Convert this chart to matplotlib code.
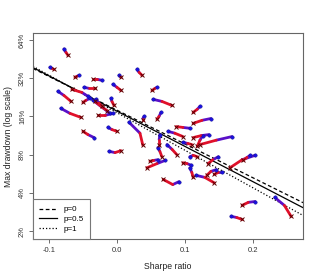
import numpy as np
import matplotlib
matplotlib.use("Agg")
import matplotlib.pyplot as plt
from matplotlib.collections import LineCollection
from matplotlib.ticker import FixedLocator, FixedFormatter, NullLocator

plt.rcParams['font.family'] = ['Liberation Sans', 'DejaVu Sans']

# curve points: blue end, middle, red end  (Sharpe ratio, max drawdown %)
blue_sharpe = [-0.078, -0.0985, -0.0559, -0.022, 0.0294, 0.003, -0.0868, -0.0485, -0.0059, -0.0824,
               -0.0426, -0.0397, -0.0103, -0.0059, -0.0088, -0.0309, -0.0353, -0.0338, -0.0132, -0.0118,
               0.053, 0.0588, 0.0647, 0.122, 0.138, 0.0176, 0.040, 0.107, 0.075, 0.135,
               0.169, 0.126, 0.063, 0.060, 0.0735, 0.0706, 0.060, 0.091, 0.109, 0.107,
               0.116, 0.097, 0.107, 0.149, 0.146, 0.154, 0.203, 0.196, 0.232, 0.203, 0.168]
blue_dd = [54.3, 38.9, 33.7, 30.8, 37.5, 33.7, 25.2, 27.1, 28.6, 18.5,
           23.0, 22.2, 16.9, 16.9, 22.2, 21.8, 21.4, 10.9, 13.1, 8.5,
           21.8, 27.1, 17.2, 19.2, 15.4, 14.4, 16.0, 12.9, 12.2, 11.5,
           11.1, 11.3, 11.5, 9.1, 9.6, 7.2, 7.3, 4.9, 6.6, 6.3,
           5.5, 10.0, 7.7, 7.7, 6.1, 5.8, 7.9, 7.9, 3.68, 3.42, 2.61]
mid_sharpe = [-0.075, -0.0956, -0.0588, -0.0294, 0.0324, 0.0044, -0.078, -0.0412, 0.0, -0.0691,
              -0.0515, -0.0456, -0.025, -0.0176, -0.0074, -0.0265, -0.0235, -0.0426, -0.0074, -0.0029,
              0.066, 0.0559, 0.0618, 0.118, 0.125, 0.0338, 0.038, 0.097, 0.085, 0.124,
              0.146, 0.122, 0.062, 0.063, 0.081, 0.0588, 0.054, 0.082, 0.103, 0.110,
              0.129, 0.104, 0.112, 0.141, 0.138, 0.149, 0.184, 0.191, 0.246, 0.193, 0.176]
mid_dd = [51.1, 38.2, 33.1, 31.3, 35.6, 33.1, 23.4, 26.6, 27.1, 16.9,
          24.7, 21.4, 19.5, 16.3, 21.0, 20.3, 19.2, 11.5, 12.6, 8.3,
          21.0, 26.6, 16.0, 18.2, 14.9, 11.8, 15.4, 13.1, 11.8, 11.3,
          10.4, 10.4, 10.5, 8.5, 8.8, 6.8, 7.2, 4.65, 6.8, 5.8,
          5.3, 9.8, 7.9, 7.3, 5.9, 5.8, 7.3, 7.6, 3.19, 3.37, 2.56]
red_sharpe = [-0.072, -0.0926, -0.0618, -0.0353, 0.0368, 0.006, -0.0676, -0.0324, 0.0059, -0.0529,
              -0.0662, -0.050, -0.0324, -0.028, -0.0044, -0.022, -0.0147, -0.050, 0.0, 0.0059,
              0.081, 0.0515, 0.0588, 0.112, 0.112, 0.038, 0.038, 0.087, 0.097, 0.112,
              0.122, 0.118, 0.062, 0.066, 0.088, 0.044, 0.0485, 0.068, 0.097, 0.112,
              0.143, 0.110, 0.118, 0.134, 0.132, 0.143, 0.166, 0.185, 0.256, 0.184, 0.184]
red_dd = [48.4, 37.5, 32.5, 31.3, 33.7, 32.5, 21.0, 26.6, 25.6, 15.7,
          26.1, 20.6, 21.0, 16.3, 19.5, 19.2, 17.8, 12.2, 12.2, 8.6,
          19.5, 25.6, 15.2, 17.2, 14.1, 9.5, 14.9, 13.3, 11.1, 10.9,
          9.6, 9.3, 9.6, 7.7, 8.0, 6.3, 7.1, 5.1, 6.9, 5.3,
          4.8, 9.6, 7.7, 6.8, 5.5, 5.6, 6.3, 7.2, 2.61, 3.19, 2.47]

# fitted lines: log2(drawdown) = log2(dd_at_zero) + slope * sharpe
line_labels = ['p=0', 'p=0.5', 'p=1']
line_dd_at_zero = [17.9, 17.6, 17.1]
line_log2_slope = [-8.84, -9.23, -9.82]
line_styles = ['--', '-', ':']

y_ticks = [2, 4, 8, 16, 32, 64]
y_ticklabels = ['2%', '4%', '8%', '16%', '32%', '64%']
x_ticks = [-0.1, 0.0, 0.1, 0.2]
x_ticklabels = ['-0.1', '0.0', '0.1', '0.2']

fig = plt.figure(figsize=(3.2, 2.8), dpi=100)
ax = fig.add_axes([0.103, 0.146, 0.844, 0.736])
xmin, xmax = -0.1235, 0.2735
ax.set_xlim(xmin, xmax)
ax.set_yscale('log', base=2)
ax.set_ylim(1.73, 72.5)

xs = np.array([xmin, xmax])
handles = []
for lab, d0, sl, ls in zip(line_labels, line_dd_at_zero, line_log2_slope, line_styles):
    kw = {}
    if ls == '--':
        kw['dashes'] = (3, 2)
    elif ls == ':':
        kw['dashes'] = (1, 1.6)
    h, = ax.plot(xs, d0 * 2 ** (sl * xs), color='black', lw=0.9, ls=ls, zorder=2, **kw)
    handles.append(h)

segs1, segs2 = [], []
for i in range(len(blue_sharpe)):
    segs1.append([(blue_sharpe[i], blue_dd[i]), (mid_sharpe[i], mid_dd[i])])
    segs2.append([(mid_sharpe[i], mid_dd[i]), (red_sharpe[i], red_dd[i])])
ax.add_collection(LineCollection(segs1, colors='#5a10c8', linewidths=2.0, capstyle='round', zorder=3))
ax.add_collection(LineCollection(segs2, colors='#e0102a', linewidths=2.0, capstyle='round', zorder=3))
ax.plot(blue_sharpe, blue_dd, 'o', color='#1a10e0', ms=2.5, mec='#10108a', mew=0.3, zorder=4)
ax.plot(red_sharpe, red_dd, 'x', color='#5a0000', ms=2.6, mew=0.7, zorder=4)

ax.yaxis.set_major_locator(FixedLocator(y_ticks))
ax.yaxis.set_major_formatter(FixedFormatter(y_ticklabels))
ax.yaxis.set_minor_locator(NullLocator())
ax.set_xticks(x_ticks)
ax.set_xticklabels(x_ticklabels)
for lab in ax.get_yticklabels():
    lab.set_rotation(90)
    lab.set_va('center')
ax.tick_params(axis='both', labelsize=5.5, length=3, width=0.6, color='#555555', labelcolor='#333333', pad=2)
ax.tick_params(axis='x', pad=3)
for s in ax.spines.values():
    s.set_color('#666666')
    s.set_linewidth(0.8)

ax.set_xlabel('Sharpe ratio', fontsize=6.2, color='#222222')
ax.set_ylabel('Max drawdown (log scale)', fontsize=6.2, color='#222222')
ax.xaxis.set_label_coords(0.5, -0.11)
ax.yaxis.set_label_coords(-0.075, 0.5)

leg = ax.legend(handles, line_labels, loc='lower left', borderaxespad=0, fancybox=False,
                edgecolor='#777777', framealpha=1, fontsize=5.8, handlelength=2.2,
                handletextpad=0.8, borderpad=0.8, labelspacing=0.25)
leg.get_frame().set_linewidth(0.8)
leg.set_zorder(5)

fig.savefig('out.png', dpi=100)
